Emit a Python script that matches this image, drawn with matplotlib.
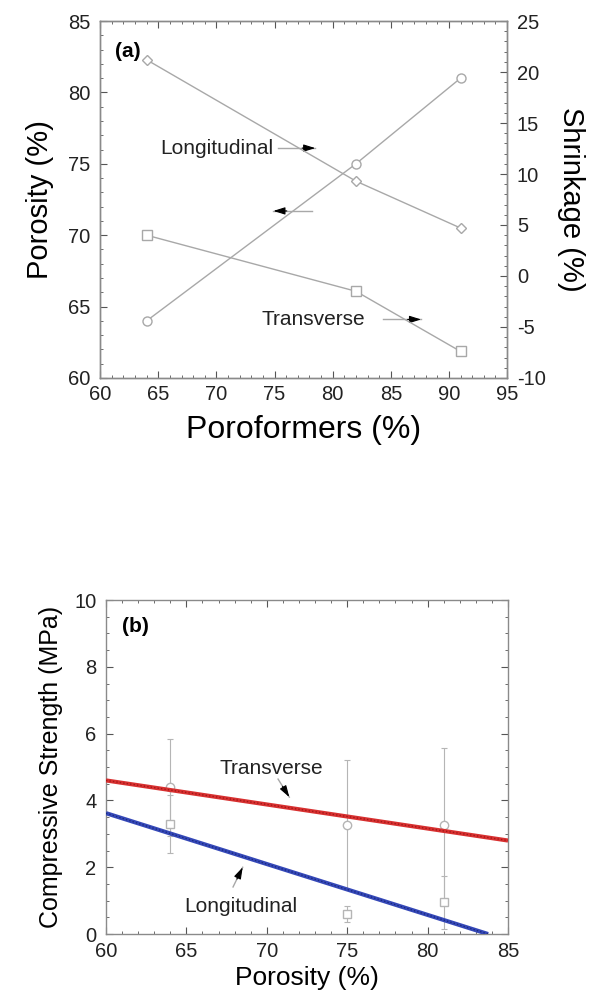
import numpy as np
import matplotlib
matplotlib.use('Agg')
from matplotlib import pyplot as plt
from matplotlib.ticker import MultipleLocator

plt.rcParams['font.family'] = ['Liberation Sans', 'DejaVu Sans']
plt.rcParams['axes.unicode_minus'] = False

# (a) porosity and shrinkage vs poroformer content
poro_x = [64, 82, 91]
porosity = [64.0, 75.0, 81.0]
long_shrink = [21.2, 9.3, 4.7]
trans_shrink = [4.0, -1.5, -7.4]

# (b) compressive strength vs porosity
cs_x = [64, 75, 81]
cs_trans = [4.4, 3.27, 3.27]
cs_trans_err = [1.45, 1.93, 2.3]
cs_long = [3.3, 0.6, 0.95]
cs_long_err = [0.87, 0.25, 0.8]
fit_trans_x = [60, 85]
fit_trans_y = [4.6, 2.8]
fit_long_x = [60, 83.76]
fit_long_y = [3.62, 0.0]

gray = '#a8a8a8'
spine_c = '#8a8a8a'

fig = plt.figure(figsize=(6.03, 9.96), dpi=100)


def style(ax):
	for s in ax.spines.values():
		s.set_color(spine_c)
		s.set_linewidth(1.0)
	ax.tick_params(which='both', direction='in', color='#555555', labelcolor='#222222', labelsize=14.5, pad=7)
	ax.tick_params(which='major', length=5)
	ax.tick_params(which='minor', length=2.5)


def arrow(ax, x0, y0, x1, y1, frac=0.35):
	# gray shaft with a black head at the tip
	ax.plot([x0, x1], [y0, y1], color=gray, lw=1.0)
	xm = x1 - frac * (x1 - x0)
	ym = y1 - frac * (y1 - y0)
	ax.annotate('', xy=(x1, y1), xytext=(xm, ym),
		arrowprops=dict(arrowstyle='-|>,head_length=0.7,head_width=0.22', color='black', lw=0.8, shrinkA=0, shrinkB=0))


# ---- panel (a)
ax = fig.add_axes([0.166, 0.6205, 0.675, 0.3584])
ax2 = ax.twinx()
ax.set_xlim(60, 95)
ax.set_ylim(60, 85)
ax2.set_ylim(-10, 25)
ax.plot(poro_x, porosity, '-o', color=gray, lw=1.0, ms=6.5, mfc='white', mec=gray, mew=1.0, zorder=3)
ax2.plot(poro_x, long_shrink, '-D', color=gray, lw=1.0, ms=5, mfc='white', mec=gray, mew=1.0, zorder=3)
ax2.plot(poro_x, trans_shrink, '-s', color=gray, lw=1.0, ms=6.5, mfc='white', mec=gray, mew=1.0, zorder=3)

ax.xaxis.set_major_locator(MultipleLocator(5))
ax.xaxis.set_minor_locator(MultipleLocator(1))
ax.yaxis.set_major_locator(MultipleLocator(5))
ax.yaxis.set_minor_locator(MultipleLocator(1))
ax2.yaxis.set_major_locator(MultipleLocator(5))
ax2.yaxis.set_minor_locator(MultipleLocator(1))
style(ax)
style(ax2)
ax.tick_params(which='both', top=True)
ax.tick_params(axis='x', pad=5)

ax.set_xlabel('Poroformers (%)', fontsize=23, labelpad=8)
ax.set_ylabel('Porosity (%)', fontsize=21, labelpad=10)
ax2.set_ylabel('Shrinkage (%)', fontsize=21, rotation=270, labelpad=28)

ax.text(61.3, 82.9, '(a)', fontsize=15, fontweight='bold', ha='left', va='center')
ax.text(65.2, 76.1, 'Longitudinal', fontsize=15, ha='left', va='center', color='#222222')
arrow(ax, 75.3, 76.1, 78.5, 76.1)
arrow(ax, 78.2, 71.7, 74.9, 71.7)
ax.text(73.9, 64.1, 'Transverse', fontsize=15, ha='left', va='center', color='#222222')
arrow(ax, 84.3, 64.1, 87.6, 64.1)

# ---- panel (b)
bx = fig.add_axes([0.1758, 0.0622, 0.6667, 0.3353])
bx.set_xlim(60, 85)
bx.set_ylim(0, 10)
bx.errorbar(cs_x, cs_trans, yerr=cs_trans_err, fmt='o', ms=6, mfc='white', mec='#b5b5b5',
	ecolor='#b5b5b5', elinewidth=0.8, capsize=2.5, capthick=0.8, zorder=2)
bx.errorbar(cs_x, cs_long, yerr=cs_long_err, fmt='s', ms=6, mfc='white', mec='#b5b5b5',
	ecolor='#b5b5b5', elinewidth=0.8, capsize=2.5, capthick=0.8, zorder=2)
bx.plot(fit_trans_x, fit_trans_y, color='#d83030', lw=3.0, zorder=3, solid_capstyle='butt')
bx.plot(fit_trans_x, fit_trans_y, color='#a01818', lw=1.0, ls=(0, (1, 1.5)), zorder=4)
bx.plot(fit_long_x, fit_long_y, color='#3548b8', lw=3.0, zorder=3, solid_capstyle='butt')
bx.plot(fit_long_x, fit_long_y, color='#1a2a80', lw=1.0, ls=(0, (1, 1.5)), zorder=4)

bx.xaxis.set_major_locator(MultipleLocator(5))
bx.xaxis.set_minor_locator(MultipleLocator(1))
bx.yaxis.set_major_locator(MultipleLocator(2))
bx.yaxis.set_minor_locator(MultipleLocator(0.5))
style(bx)
bx.tick_params(which='both', top=True, right=True)
bx.tick_params(axis='x', pad=6)

bx.set_xlabel('Porosity (%)', fontsize=19, labelpad=3)
bx.set_ylabel('Compressive Strength (MPa)', fontsize=18, labelpad=8)
bx.text(61.0, 9.2, '(b)', fontsize=15, fontweight='bold', ha='left', va='center')
bx.text(70.3, 4.97, 'Transverse', fontsize=15, ha='center', va='center', color='#222222')
arrow(bx, 70.7, 4.64, 71.4, 4.10, frac=0.6)
bx.text(68.4, 0.81, 'Longitudinal', fontsize=15, ha='center', va='center', color='#222222')
arrow(bx, 67.9, 1.41, 68.5, 2.0, frac=0.6)

plt.savefig('out.png', dpi=100)
